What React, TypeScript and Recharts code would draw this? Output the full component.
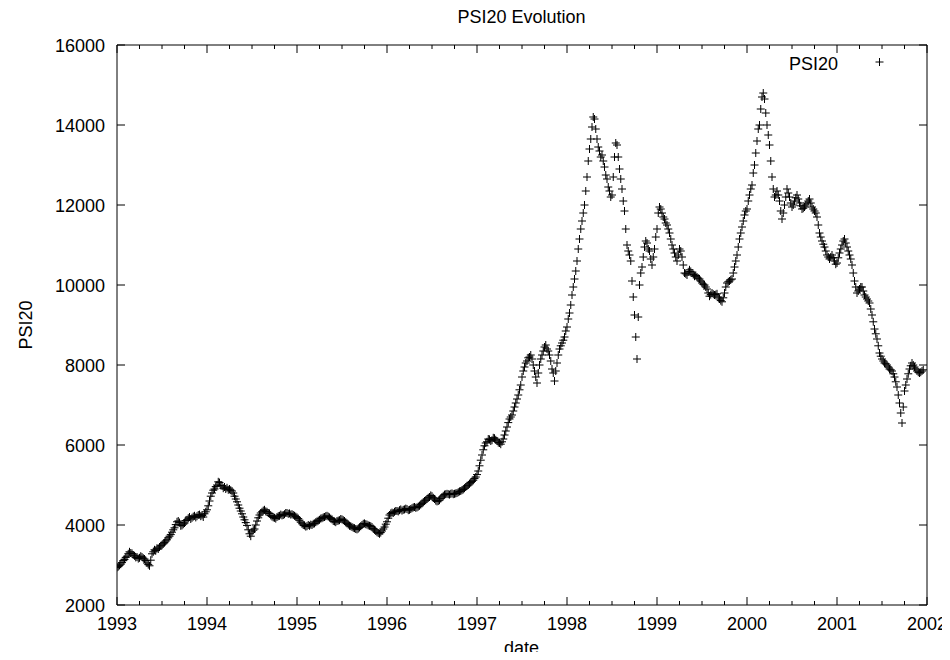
import React from "react";
import { ScatterChart, Scatter, XAxis, YAxis } from "recharts";

// PSI20 closing level, about one reading every five trading days (72 per year)
const psi1993 = [
  2940, 2960, 2990, 3020, 3060, 3110, 3140, 3190, 3220, 3280, 3330, 3300,
  3290, 3250, 3230, 3190, 3200, 3160, 3180, 3220, 3200, 3170, 3150, 3110,
  3050, 3010, 2980, 3120, 3280, 3330, 3380, 3360, 3420, 3400, 3450, 3480,
  3500, 3530, 3560, 3600, 3630, 3680, 3720, 3760, 3820, 3880, 3930, 4010,
  4080, 4100, 4060, 3980, 3990, 4020, 4050, 4110, 4130, 4170, 4200, 4150,
  4180, 4210, 4230, 4190, 4220, 4250, 4260, 4220, 4240, 4200, 4280, 4330,
];
const psi1994 = [
  4380, 4480, 4600, 4720, 4800, 4870, 4900, 4960, 5000, 5080, 5060, 4990,
  4980, 4920, 4950, 4900, 4930, 4880, 4900, 4870, 4850, 4800, 4720, 4650,
  4580, 4500, 4420, 4350, 4280, 4200, 4130, 4060, 3990, 3880, 3780, 3720,
  3830, 3870, 3900, 4000, 4100, 4180, 4250, 4300, 4330, 4360, 4380, 4340,
  4330, 4300, 4290, 4240, 4210, 4190, 4180, 4160, 4200, 4220, 4230, 4260,
  4240, 4250, 4270, 4300, 4300, 4280, 4290, 4260, 4270, 4250, 4230, 4210,
];
const psi1995 = [
  4190, 4160, 4120, 4070, 4030, 4000, 3990, 3960, 3970, 4000, 3980, 4010,
  4000, 4030, 4040, 4070, 4090, 4110, 4130, 4160, 4170, 4190, 4200, 4220,
  4230, 4210, 4190, 4160, 4140, 4100, 4090, 4070, 4100, 4110, 4120, 4150,
  4140, 4120, 4100, 4070, 4040, 4010, 3980, 3970, 3950, 3930, 3920, 3900,
  3890, 3910, 3940, 3970, 4000, 4030, 4040, 4020, 4010, 3990, 3980, 3970,
  3950, 3910, 3880, 3850, 3820, 3800, 3780, 3810, 3850, 3900, 3950, 4020,
];
const psi1996 = [
  4080, 4170, 4250, 4290, 4310, 4300, 4330, 4350, 4350, 4340, 4370, 4390,
  4360, 4380, 4390, 4410, 4400, 4370, 4380, 4400, 4420, 4440, 4450, 4430,
  4440, 4460, 4480, 4510, 4540, 4570, 4600, 4620, 4650, 4680, 4700, 4740,
  4720, 4680, 4650, 4610, 4590, 4600, 4620, 4660, 4700, 4730, 4760, 4770,
  4780, 4770, 4760, 4780, 4790, 4770, 4780, 4790, 4800, 4820, 4840, 4850,
  4870, 4890, 4920, 4950, 4980, 5000, 5030, 5060, 5090, 5120, 5160, 5200,
];
const psi1997 = [
  5260, 5350, 5480, 5620, 5750, 5880, 5980, 6050, 6080, 6150, 6140, 6100,
  6120, 6180, 6170, 6130, 6100, 6060, 6050, 6020, 6080, 6150, 6250, 6350,
  6450, 6560, 6650, 6700, 6750, 6850, 6950, 7050, 7150, 7250, 7380, 7500,
  7700, 7850, 7950, 8050, 8100, 8180, 8200, 8250, 8150, 8000, 7850, 7700,
  7550, 7800, 8000, 8150, 8250, 8350, 8450, 8500, 8400, 8350, 8250, 8100,
  7900, 7800, 7600, 7850, 8050, 8250, 8400, 8480, 8550, 8620, 8700, 8850,
];
const psi1998 = [
  8950, 9150, 9300, 9500, 9750, 9950, 10150, 10350, 10600, 10900, 11150, 11400,
  11600, 11800, 12000, 12350, 12700, 13100, 13400, 13650, 13950, 14200, 14150,
  13900, 13650, 13450, 13350, 13200, 13250, 13100, 12950, 12750, 12650, 12450,
  12350, 12200, 12250, 12700, 13200, 13550, 13500, 13200, 12900, 12650, 12400,
  12100, 11850, 11400, 11000, 10850, 10750, 10600, 10100, 9700, 9250, 8700,
  8150, 9200, 10000, 10300, 10450, 10700, 10950, 11100, 11050, 10900, 10850,
  10650, 10500, 10700, 10900, 11200,
];
const psi1999 = [
  11400, 11800, 11950, 11900, 11800, 11700, 11650, 11550, 11500, 11400, 11300,
  11150, 11000, 10900, 10800, 10700, 10600, 10750, 10900, 10850, 10700, 10500,
  10300, 10280, 10250, 10330, 10380, 10340, 10300, 10260, 10220, 10240, 10200,
  10170, 10150, 10100, 10050, 10020, 10000, 9950, 9900, 9800, 9720, 9760, 9800,
  9770, 9750, 9760, 9780, 9700, 9650, 9610, 9580, 9680, 9800, 9950, 10050,
  10080, 10100, 10130, 10150, 10300, 10450, 10600, 10750, 10950, 11150, 11300,
  11450, 11600, 11750, 11850,
];
const psi2000 = [
  11900, 12100, 12250, 12400, 12500, 12800, 13000, 13300, 13600, 13900, 14000,
  14400, 14700, 14800, 14650, 14300, 14000, 13750, 13500, 13100, 12700, 12400,
  12200, 12250, 12350, 12250, 12100, 11850, 11650, 11800, 12000, 12200, 12400,
  12300, 12200, 12050, 11950, 12000, 12100, 12180, 12250, 12150, 12050, 11980,
  11900, 11920, 11950, 12000, 12050, 12100, 12150, 12050, 11950, 11900, 11850,
  11800, 11700, 11500, 11300, 11200, 11100, 11020, 10950, 10850, 10750, 10700,
  10650, 10700, 10750, 10680, 10600, 10520,
];
const psi2001 = [
  10550, 10680, 10800, 10900, 11000, 11100, 11150, 11050, 10950, 10850, 10750,
  10650, 10500, 10300, 10100, 9950, 9800, 9850, 9900, 9950, 9950, 9850, 9750,
  9700, 9650, 9600, 9550, 9400, 9250, 9080, 8900, 8780, 8650, 8480, 8300, 8220,
  8150, 8100, 8050, 8030, 8000, 7950, 7900, 7880, 7850, 7780, 7700, 7580, 7450,
  7250, 7050, 6800, 6550, 6950, 7350, 7500, 7650, 7780, 7900, 7980, 8050, 8000,
  7950, 7900, 7850, 7820, 7800, 7820, 7850, 7880,
];

const years = [1993, 1994, 1995, 1996, 1997, 1998, 1999, 2000, 2001];
const yearly = [
  psi1993, psi1994, psi1995, psi1996, psi1997, psi1998, psi1999, psi2000, psi2001,
];
const READINGS_PER_YEAR = 72;

const yearTicks = [1993, 1994, 1995, 1996, 1997, 1998, 1999, 2000, 2001, 2002];
const valueTicks = [2000, 4000, 6000, 8000, 10000, 12000, 14000, 16000];

const psi20 = years.flatMap((year, k) =>
  yearly[k].map((value, i) => ({ date: year + i / READINGS_PER_YEAR, value }))
);

// major ticks on years, minor ticks on quarters
const dateTicks = yearTicks.flatMap((y) =>
  y < 2002 ? [y, y + 0.25, y + 0.5, y + 0.75] : [y]
);

const FONT = "'Liberation Sans', Arial, Helvetica, sans-serif";
const INK = "#000";

const Plus = (props: any) => {
  const { cx, cy } = props;
  if (cx == null || cy == null) return null;
  return (
    <g stroke={INK} strokeWidth={1}>
      <line x1={cx - 4} y1={cy} x2={cx + 4} y2={cy} />
      <line x1={cx} y1={cy - 4} x2={cx} y2={cy + 4} />
    </g>
  );
};

const BottomTick = ({ x, y, payload }: any) => {
  const major = Number.isInteger(payload.value);
  return (
    <g>
      <line x1={x} y1={y} x2={x} y2={y - (major ? 8 : 4)} stroke={INK} />
      {major && (
        <text x={x} y={y + 25} textAnchor="middle" fontSize={18} fill={INK}>
          {payload.value}
        </text>
      )}
    </g>
  );
};

const TopTick = ({ x, y, payload }: any) => {
  const major = Number.isInteger(payload.value);
  return <line x1={x} y1={y} x2={x} y2={y + (major ? 8 : 4)} stroke={INK} />;
};

const LeftTick = ({ x, y, payload }: any) => (
  <g>
    <line x1={x} y1={y} x2={x + 8} y2={y} stroke={INK} />
    <text x={x - 12} y={y + 6.5} textAnchor="end" fontSize={18} fill={INK}>
      {payload.value}
    </text>
  </g>
);

const RightTick = ({ x, y }: any) => (
  <line x1={x} y1={y} x2={x - 8} y2={y} stroke={INK} />
);

const App = () => {
  return (
    <div style={{ position: "relative", width: 942, height: 644, fontFamily: FONT }}>
      <ScatterChart
        width={942}
        height={644}
        margin={{ top: 0, right: 0, bottom: 0, left: 0 }}
      >
        <XAxis
          xAxisId="bottom"
          type="number"
          dataKey="date"
          domain={[1993, 2002]}
          ticks={dateTicks}
          interval={0}
          height={47}
          tickSize={0}
          tickMargin={0}
          tickLine={false}
          axisLine={{ stroke: INK }}
          tick={<BottomTick />}
          allowDataOverflow
        />
        <XAxis
          xAxisId="top"
          orientation="top"
          type="number"
          dataKey="date"
          domain={[1993, 2002]}
          ticks={dateTicks}
          interval={0}
          height={37}
          tickSize={0}
          tickMargin={0}
          tickLine={false}
          axisLine={{ stroke: INK }}
          tick={<TopTick />}
          allowDataOverflow
        />
        <YAxis
          yAxisId="left"
          type="number"
          dataKey="value"
          domain={[2000, 16000]}
          ticks={valueTicks}
          interval={0}
          width={109}
          tickSize={0}
          tickMargin={0}
          tickLine={false}
          axisLine={{ stroke: INK }}
          tick={<LeftTick />}
          allowDataOverflow
        />
        <YAxis
          yAxisId="right"
          orientation="right"
          type="number"
          dataKey="value"
          domain={[2000, 16000]}
          ticks={valueTicks}
          interval={0}
          width={23}
          tickSize={0}
          tickMargin={0}
          tickLine={false}
          axisLine={{ stroke: INK }}
          tick={<RightTick />}
          allowDataOverflow
        />
        <Scatter
          name="PSI20"
          data={psi20}
          xAxisId="bottom"
          yAxisId="left"
          shape={<Plus />}
          isAnimationActive={false}
        />
        <Scatter
          data={psi20}
          xAxisId="top"
          yAxisId="right"
          shape={() => <g />}
          legendType="none"
          isAnimationActive={false}
        />
      </ScatterChart>
      {/* title, axis titles and key drawn over the chart */}
      <svg
        width={942}
        height={644}
        style={{
          position: "absolute",
          left: 0,
          top: 0,
          overflow: "visible",
          pointerEvents: "none",
        }}
      >
        <text x={513.5} y={15} textAnchor="middle" fontSize={18} fill={INK}>
          PSI20 Evolution
        </text>
        <text x={513.5} y={646} textAnchor="middle" fontSize={18} fill={INK}>
          date
        </text>
        <text
          transform="translate(23.5,317) rotate(-90)"
          textAnchor="middle"
          fontSize={18}
          fill={INK}
        >
          PSI20
        </text>
        <text x={830} y={61.5} textAnchor="end" fontSize={18} fill={INK}>
          PSI20
        </text>
        <Plus cx={871.5} cy={54} />
      </svg>
    </div>
  );
};

export default App;
